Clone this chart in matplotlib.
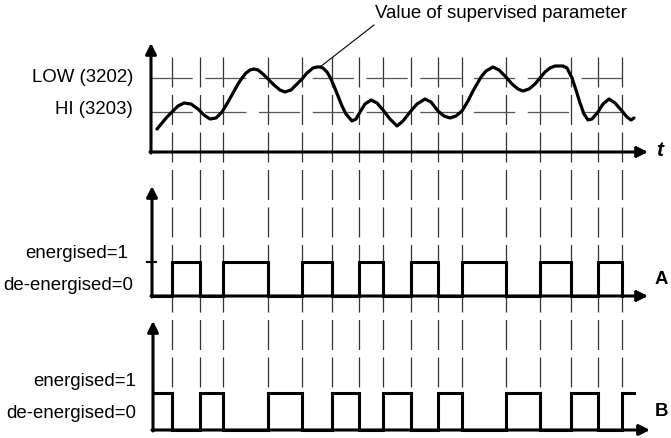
import matplotlib.pyplot as plt

plt.rcParams['font.family'] = ['Liberation Sans', 'DejaVu Sans']

# switching instants (shared by all three panels)
switch_t = [172, 200, 223, 268, 302, 332, 359, 383, 411, 438, 462, 506, 540, 571, 598, 622]

# supervised parameter (x, y in drawing units, y grows downwards)
curve_x = [157, 162, 167, 172, 178, 184, 191, 198, 204, 210, 216, 222, 228, 233, 238, 242,
           246, 250, 254, 258, 263, 268, 274, 280, 285, 291, 296, 302, 307, 313, 317, 320,
           323, 327, 330, 334, 338, 342, 346, 352, 356, 360, 365, 371, 377, 383, 390, 397,
           403, 410, 417, 425, 431, 438, 444, 450, 456, 462, 468, 473, 477, 481, 486, 493,
           499, 506, 512, 518, 523, 529, 535, 540, 545, 550, 555, 559, 563, 567, 572, 576,
           580, 584, 588, 592, 598, 603, 609, 615, 622, 627, 631, 634]
curve_y = [129, 123, 117, 112, 106, 103, 104, 109, 115, 119, 118, 112, 102, 93, 84, 78,
           73, 70, 69, 70, 74, 79, 85, 90, 92, 90, 85, 79, 73, 68, 67, 67,
           68, 72, 77, 86, 96, 106, 114, 121, 119, 112, 104, 100, 103, 110, 119, 126,
           121, 112, 104, 99, 102, 111, 116, 118, 116, 111, 101, 91, 84, 77, 71, 67,
           70, 77, 84, 89, 91, 89, 84, 78, 72, 68, 66, 66, 66, 68, 78, 90,
           103, 114, 120, 119, 112, 104, 99, 103, 111, 117, 120, 118]

# relay outputs (1 = energised)
relay_a = [0, 1, 0, 1, 0, 1, 0, 1, 0, 1, 0, 1, 0, 1, 0, 1, 0]
relay_b = [1, 0, 1, 0, 1, 0, 1, 0, 1, 0, 1, 0, 1, 0, 1, 0, 1]

low_level = 78
hi_level = 112

fig = plt.figure(figsize=(6.71, 4.38), dpi=100)
ax = fig.add_axes([0, 0, 1, 1])
ax.set_xlim(0, 671)
ax.set_ylim(438, 0)
ax.axis('off')

arrow = dict(arrowstyle='-|>', lw=2.2, color='black', mutation_scale=16, shrinkA=0, shrinkB=0)
fs = 13.4

# vertical dashed switching lines
for t in switch_t:
    ax.plot([t, t], [57, 432], color='#333333', lw=0.9, dashes=(24, 6), zorder=1)

# limit lines LOW / HI
for lvl in [low_level, hi_level]:
    ax.plot([151, 624], [lvl, lvl], color='#555555', lw=0.9, dashes=(33, 10), zorder=1)

# top panel axes
ax.annotate('', xy=(151, 43), xytext=(151, 153), arrowprops=arrow)
ax.annotate('', xy=(648, 152), xytext=(150, 152), arrowprops=arrow)
ax.text(660, 150, 't', fontsize=15, fontweight='bold', style='italic', ha='center', va='center')
ax.text(133, 77, 'LOW (3202)', fontsize=fs, ha='right', va='center')
ax.text(133, 109, 'HI (3203)', fontsize=fs, ha='right', va='center')

ax.plot(curve_x, curve_y, color='black', lw=2.3, solid_capstyle='round', solid_joinstyle='round', zorder=3)

# leader to the curve
ax.plot([320, 374], [67, 25], color='black', lw=0.8)
ax.text(501, 14, 'Value of supervised parameter', fontsize=fs, ha='center', va='center')


def relay(states, x0, x1, base, high):
    xs = [x0]
    ys = [base - states[0] * (base - high)]
    edges = switch_t + [x1]
    for i, e in enumerate(edges):
        y = base - states[i] * (base - high)
        xs.append(e)
        ys.append(y)
        if i + 1 < len(states) and e != x1:
            xs.append(e)
            ys.append(base - states[i + 1] * (base - high))
    ax.plot(xs, ys, color='black', lw=2.2, solid_joinstyle='miter', zorder=3)


# relay A panel
ax.annotate('', xy=(152, 186), xytext=(152, 297), arrowprops=arrow)
ax.annotate('', xy=(648, 296), xytext=(151, 296), arrowprops=arrow)
ax.plot([147, 156], [262, 262], color='black', lw=1.5)
relay(relay_a, 152, 622, 296, 262)
ax.text(128, 253, 'energised=1', fontsize=fs, ha='right', va='center')
ax.text(133, 285, 'de-energised=0', fontsize=fs, ha='right', va='center')
ax.text(661, 279, 'A', fontsize=fs, fontweight='bold', ha='center', va='center')

# relay B panel
ax.annotate('', xy=(153, 321), xytext=(153, 431), arrowprops=arrow)
ax.annotate('', xy=(650, 430), xytext=(152, 430), arrowprops=arrow)
relay(relay_b, 153, 634, 430, 393)
ax.text(136, 382, 'energised=1', fontsize=fs, ha='right', va='center')
ax.text(136, 414, 'de-energised=0', fontsize=fs, ha='right', va='center')
ax.text(662, 411, 'B', fontsize=fs, fontweight='bold', ha='center', va='center')

fig.savefig('out.png', dpi=100)
